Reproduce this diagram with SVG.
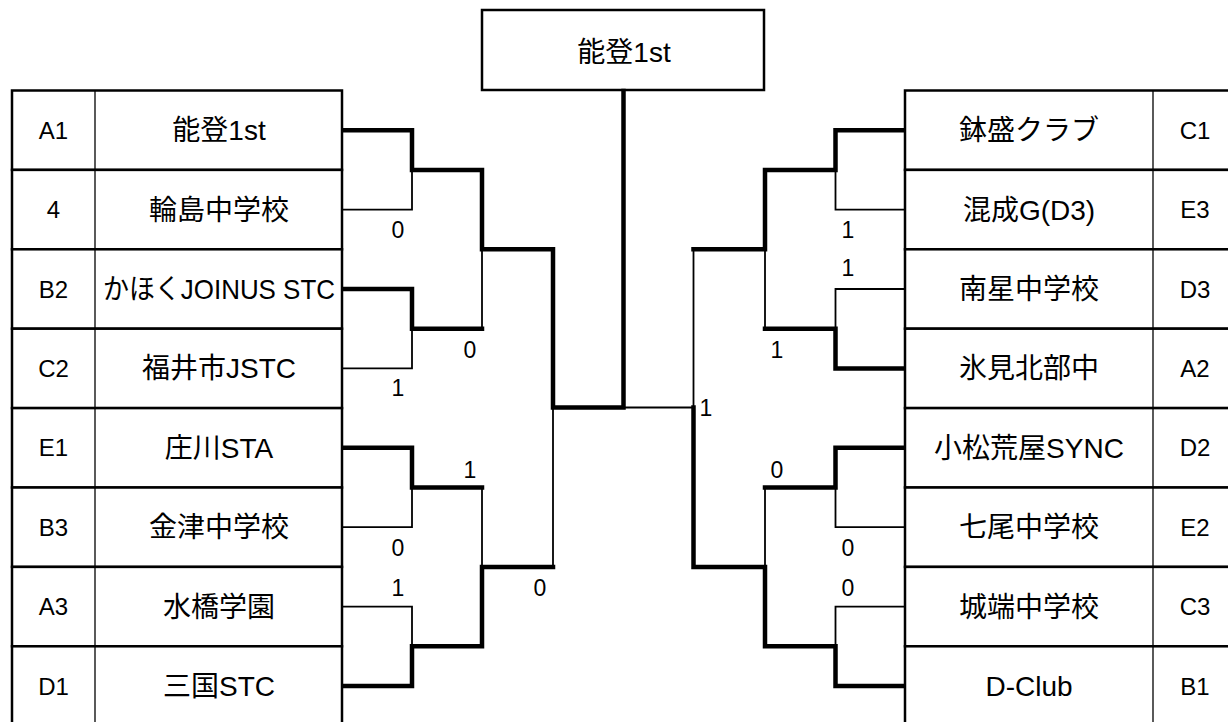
<svg xmlns="http://www.w3.org/2000/svg" width="1228" height="722" viewBox="0 0 1228 722">
<style>
text{font-family:"Liberation Sans","Noto Sans CJK JP",sans-serif;fill:#000}
.name{font-size:28px;text-anchor:middle}
.lab{font-size:24px;text-anchor:middle}
.score{font-size:23px;text-anchor:middle}
.cell{fill:#fff;stroke:#000;stroke-width:2.5}
.div{stroke:#000;stroke-width:1.3}
.thick{fill:none;stroke:#000;stroke-width:4.5;stroke-linejoin:miter;stroke-linecap:square}
.thin{fill:none;stroke:#000;stroke-width:1.8}
</style>
<rect width="1228" height="722" fill="#fff"/>

<g id="champion">
<rect class="cell" x="482" y="10" width="282" height="80"/>
<text class="name" x="624" y="62">能登1st</text>
</g>

<g id="left-teams">
<g id="team-A1"><rect class="cell" x="12" y="90.5" width="330" height="79.4"/><line class="div" x1="95" y1="90.5" x2="95" y2="169.9"/><text class="lab" x="53.5" y="138.8">A1</text><text class="name" x="219" y="140.2">能登1st</text></g>
<g id="team-4"><rect class="cell" x="12" y="169.9" width="330" height="79.4"/><line class="div" x1="95" y1="169.9" x2="95" y2="249.3"/><text class="lab" x="53.5" y="218.2">4</text><text class="name" x="219" y="219.6">輪島中学校</text></g>
<g id="team-B2"><rect class="cell" x="12" y="249.3" width="330" height="79.4"/><line class="div" x1="95" y1="249.3" x2="95" y2="328.7"/><text class="lab" x="53.5" y="297.6">B2</text><text class="name" x="219" y="299" textLength="232" lengthAdjust="spacingAndGlyphs">かほくJOINUS STC</text></g>
<g id="team-C2"><rect class="cell" x="12" y="328.7" width="330" height="79.4"/><line class="div" x1="95" y1="328.7" x2="95" y2="408.1"/><text class="lab" x="53.5" y="377">C2</text><text class="name" x="219" y="378.4">福井市JSTC</text></g>
<g id="team-E1"><rect class="cell" x="12" y="408.1" width="330" height="79.4"/><line class="div" x1="95" y1="408.1" x2="95" y2="487.5"/><text class="lab" x="53.5" y="456.4">E1</text><text class="name" x="219" y="457.8">庄川STA</text></g>
<g id="team-B3"><rect class="cell" x="12" y="487.5" width="330" height="79.4"/><line class="div" x1="95" y1="487.5" x2="95" y2="566.9"/><text class="lab" x="53.5" y="535.8">B3</text><text class="name" x="219" y="537.2">金津中学校</text></g>
<g id="team-A3"><rect class="cell" x="12" y="566.9" width="330" height="79.4"/><line class="div" x1="95" y1="566.9" x2="95" y2="646.3"/><text class="lab" x="53.5" y="615.2">A3</text><text class="name" x="219" y="616.6">水橋学園</text></g>
<g id="team-D1"><rect class="cell" x="12" y="646.3" width="330" height="79.4"/><line class="div" x1="95" y1="646.3" x2="95" y2="725.7"/><text class="lab" x="53.5" y="694.6">D1</text><text class="name" x="219" y="696">三国STC</text></g>
</g>

<g id="right-teams">
<g id="team-C1"><rect class="cell" x="905" y="90.5" width="334" height="79.4"/><line class="div" x1="1153" y1="90.5" x2="1153" y2="169.9"/><text class="name" x="1029" y="140.2">鉢盛クラブ</text><text class="lab" x="1195" y="138.8">C1</text></g>
<g id="team-E3"><rect class="cell" x="905" y="169.9" width="334" height="79.4"/><line class="div" x1="1153" y1="169.9" x2="1153" y2="249.3"/><text class="name" x="1029" y="219.6">混成G(D3)</text><text class="lab" x="1195" y="218.2">E3</text></g>
<g id="team-D3"><rect class="cell" x="905" y="249.3" width="334" height="79.4"/><line class="div" x1="1153" y1="249.3" x2="1153" y2="328.7"/><text class="name" x="1029" y="299">南星中学校</text><text class="lab" x="1195" y="297.6">D3</text></g>
<g id="team-A2"><rect class="cell" x="905" y="328.7" width="334" height="79.4"/><line class="div" x1="1153" y1="328.7" x2="1153" y2="408.1"/><text class="name" x="1029" y="378.4">氷見北部中</text><text class="lab" x="1195" y="377">A2</text></g>
<g id="team-D2"><rect class="cell" x="905" y="408.1" width="334" height="79.4"/><line class="div" x1="1153" y1="408.1" x2="1153" y2="487.5"/><text class="name" x="1029" y="457.8">小松荒屋SYNC</text><text class="lab" x="1195" y="456.4">D2</text></g>
<g id="team-E2"><rect class="cell" x="905" y="487.5" width="334" height="79.4"/><line class="div" x1="1153" y1="487.5" x2="1153" y2="566.9"/><text class="name" x="1029" y="537.2">七尾中学校</text><text class="lab" x="1195" y="535.8">E2</text></g>
<g id="team-C3"><rect class="cell" x="905" y="566.9" width="334" height="79.4"/><line class="div" x1="1153" y1="566.9" x2="1153" y2="646.3"/><text class="name" x="1029" y="616.6">城端中学校</text><text class="lab" x="1195" y="615.2">C3</text></g>
<g id="team-B1"><rect class="cell" x="905" y="646.3" width="334" height="79.4"/><line class="div" x1="1153" y1="646.3" x2="1153" y2="725.7"/><text class="name" x="1029" y="696">D-Club</text><text class="lab" x="1195" y="694.6">B1</text></g>
</g>

<g id="connectors">
<!-- left thin -->
<path class="thin" d="M342,209.6 H412 V169.9"/>
<path class="thin" d="M342,368.4 H412 V328.7"/>
<path class="thin" d="M482,249.3 V328.7"/>
<path class="thin" d="M342,527.2 H412 V487.5"/>
<path class="thin" d="M342,606.6 H412 V646.3"/>
<path class="thin" d="M482,487.5 V566.9"/>
<path class="thin" d="M553,407.5 V566.9"/>
<!-- right thin -->
<path class="thin" d="M905,209.6 H835.5 V169.9"/>
<path class="thin" d="M905,289 H835.5 V328.7"/>
<path class="thin" d="M765,249.3 V328.7"/>
<path class="thin" d="M905,527.2 H835.5 V487.5"/>
<path class="thin" d="M905,606.6 H835.5 V646.3"/>
<path class="thin" d="M765,487.5 V566.9"/>
<path class="thin" d="M693.5,249.3 V407.5"/>
<path class="thin" d="M623.5,407.5 H693.5"/>
<!-- left thick -->
<path class="thick" d="M344,130.2 H412 V169.9 H482 V249.3 H553 V407.5 H623.5 V91"/>
<path class="thick" d="M344,289 H412 V328.7 H482"/>
<path class="thick" d="M344,447.8 H412 V487.5 H482"/>
<path class="thick" d="M344,686 H412 V646.3 H482 V566.9 H553"/>
<!-- right thick -->
<path class="thick" d="M903,130.2 H835.5 V169.9 H765 V249.3 H693.5"/>
<path class="thick" d="M903,368.4 H835.5 V328.7 H765"/>
<path class="thick" d="M903,447.8 H835.5 V487.5 H765"/>
<path class="thick" d="M903,686 H835.5 V646.3 H765 V566.9 H693.5 V407.5"/>
</g>

<g id="scores">
<text class="score" x="398" y="238">0</text>
<text class="score" x="470" y="358">0</text>
<text class="score" x="398" y="396">1</text>
<text class="score" x="470" y="478">1</text>
<text class="score" x="398" y="556">0</text>
<text class="score" x="398" y="596">1</text>
<text class="score" x="540" y="596">0</text>
<text class="score" x="848" y="238">1</text>
<text class="score" x="848" y="276">1</text>
<text class="score" x="777" y="358">1</text>
<text class="score" x="706" y="416">1</text>
<text class="score" x="777" y="478">0</text>
<text class="score" x="848" y="556">0</text>
<text class="score" x="848" y="596">0</text>
</g>
</svg>
